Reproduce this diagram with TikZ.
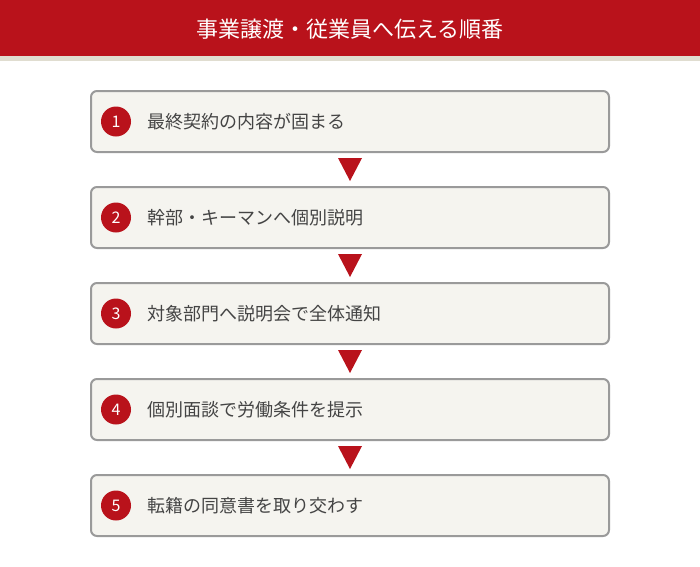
\documentclass[tikz,border=0pt]{standalone}
\usepackage{fontspec}
\setmainfont{Noto Sans CJK JP}
\definecolor{headred}{HTML}{B9121B}
\definecolor{stripbeige}{HTML}{E0DDD0}
\definecolor{boxfill}{HTML}{F5F4EF}
\definecolor{boxline}{HTML}{9A9A9A}
\definecolor{textgray}{HTML}{444444}
\tikzset{
    stepbox/.style = {draw=boxline, fill=boxfill, line width=2pt, rounded corners=6pt, minimum width=518pt, minimum height=61pt, inner sep=0pt},
    numdot/.style = {fill=headred, circle, minimum size=30pt, inner sep=0pt, text=white, font=\fontsize{16}{16}\selectfont},
    steptext/.style = {anchor=west, text=textgray, font=\fontsize{18}{20}\selectfont, inner sep=0pt},
    downtip/.style = {fill=headred}
}
\begin{document}
\begin{tikzpicture}[x=1pt, y=1pt]
        \useasboundingbox (0,0) rectangle (700,-566);
        \fill[white] (0,0) rectangle (700,-566);
        \fill[headred] (0,0) rectangle (700,-56);
        \fill[stripbeige] (0,-56) rectangle (700,-61);
        \node (title) at (350,-29) [text=white, font=\fontsize{22}{24}\selectfont] {事業譲渡・従業員へ伝える順番};
        
        \node (s1) at (350,-121.5) [stepbox] {};
        \node (s2) at (350,-217.5) [stepbox] {};
        \node (s3) at (350,-313.5) [stepbox] {};
        \node (s4) at (350,-409.5) [stepbox] {};
        \node (s5) at (350,-505.5) [stepbox] {};
        
        \node (n1) at ([xshift=26pt]s1.west) [numdot] {1};
        \node (n2) at ([xshift=26pt]s2.west) [numdot] {2};
        \node (n3) at ([xshift=26pt]s3.west) [numdot] {3};
        \node (n4) at ([xshift=26pt]s4.west) [numdot] {4};
        \node (n5) at ([xshift=26pt]s5.west) [numdot] {5};
        
        \node (t1) at ([xshift=57pt]s1.west) [steptext] {最終契約の内容が固まる};
        \node (t2) at ([xshift=57pt]s2.west) [steptext] {幹部・キーマンへ個別説明};
        \node (t3) at ([xshift=57pt]s3.west) [steptext] {対象部門へ説明会で全体通知};
        \node (t4) at ([xshift=57pt]s4.west) [steptext] {個別面談で労働条件を提示};
        \node (t5) at ([xshift=57pt]s5.west) [steptext] {転籍の同意書を取り交わす};
        
        \fill[downtip] ([xshift=-12pt,yshift=-5pt]s1.south) -- ([xshift=12pt,yshift=-5pt]s1.south) -- ([yshift=5pt]s2.north) -- cycle;
        \fill[downtip] ([xshift=-12pt,yshift=-5pt]s2.south) -- ([xshift=12pt,yshift=-5pt]s2.south) -- ([yshift=5pt]s3.north) -- cycle;
        \fill[downtip] ([xshift=-12pt,yshift=-5pt]s3.south) -- ([xshift=12pt,yshift=-5pt]s3.south) -- ([yshift=5pt]s4.north) -- cycle;
        \fill[downtip] ([xshift=-12pt,yshift=-5pt]s4.south) -- ([xshift=12pt,yshift=-5pt]s4.south) -- ([yshift=5pt]s5.north) -- cycle;
    \end{tikzpicture}
\end{document}
